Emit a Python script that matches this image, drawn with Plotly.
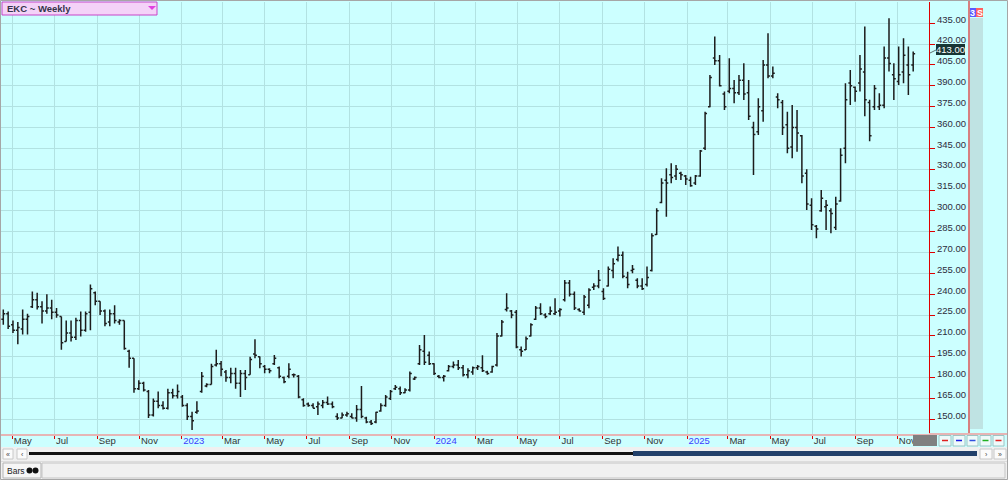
import plotly.graph_objects as go
import pandas as pd

# ---------------- data (weekly OHLC) ----------------
dates = pd.date_range("2022-04-18", periods=189, freq="7D")

opens = [
    222, 226, 218, 214, 215, 222, 231, 236, 231, 228,
    230, 227, 224, 206, 212, 209, 221, 214, 227, 241,
    235, 228, 220, 226, 220, 221, 199, 194, 172, 176,
    170, 153, 163, 160, 158, 169, 167, 166, 160, 152,
    155, 170, 174, 175, 189, 190, 184, 180, 183, 176,
    183, 182, 197, 195, 188, 186, 190, 187, 180, 181,
    182, 181, 164, 161, 160, 159, 160, 162, 161, 152,
    151, 153, 152, 151, 157, 151, 148, 148, 156, 160,
    165, 172, 172, 169, 171, 179, 190, 199, 196, 190,
    181, 180, 185, 188, 189, 187, 182, 184, 187, 187,
    184, 184, 189, 210, 229, 228, 227, 200, 200, 210,
    222, 230, 225, 226, 226, 228, 236, 248, 240, 229,
    227, 232, 245, 246, 242, 246, 257, 265, 268, 252,
    257, 250, 246, 247, 257, 283, 306, 322, 326, 325,
    327, 325, 322, 320, 325, 345, 375, 410, 408, 384,
    386, 388, 385, 394, 385, 360, 357, 372, 405, 397,
    382, 378, 362, 346, 360, 354, 327, 304, 289, 300,
    303, 300, 288, 307, 345, 392, 389, 392, 400, 378,
    375, 375, 376, 410, 398, 393, 400, 405, 405,
]
highs = [
    229, 227.5, 221, 220, 229, 226, 242, 241, 235, 240,
    236, 230, 224, 221, 221, 223, 227.5, 227.5, 247, 242,
    235, 229, 229, 232, 222, 221, 200, 194, 178, 177,
    171, 165, 170, 163, 172, 172, 175, 167.5, 161.5, 155.5,
    163, 184, 176, 190, 200, 192, 185.5, 187, 187, 185.5,
    185.5, 195, 207.6, 195.1, 189.1, 186.7, 196.3, 187.9, 180.7, 190.3,
    183, 181.9, 165.1, 162, 161.5, 162.7, 163.9, 166.3, 162.7, 154.3,
    154.8, 155.5, 154.3, 160.3, 174.0, 151.9, 149.5, 155.5, 161.5, 167.5,
    171.1, 174.7, 173.5, 172.3, 184.3, 180.7, 203.5, 210.7, 198.7, 190.3,
    181.9, 181.9, 189.1, 191.5, 192.7, 189.1, 186.7, 188, 189.1, 196,
    185, 188.5, 212, 221.5, 240.7, 228.7, 228.7, 202.3, 209.5, 219.1,
    231.6, 233.5, 226.3, 231.1, 237.1, 229.9, 250.3, 250.3, 241.9, 229.9,
    239.5, 244.3, 247.9, 257.5, 244.3, 259.9, 265.9, 274.3, 270.7, 256.2,
    261.1, 251.5, 251.5, 259.9, 283.8, 301.8, 323.4, 330.6, 334.2, 333.0,
    328.2, 325.8, 324.6, 325.8, 343.8, 371.4, 397.8, 425.4, 412.2, 385.8,
    409.8, 394.2, 397.8, 406.2, 394.2, 364.2, 381.0, 408.6, 427.8, 403.8,
    384.6, 379.8, 371.4, 376.2, 372.6, 354.6, 329.9, 309.0, 289.8, 315.0,
    307.8, 301.8, 310.2, 345.0, 391.8, 401.4, 389.4, 412.2, 432.6, 380,
    390.6, 384.6, 418.2, 438.6, 406.2, 418.2, 424.2, 418.2, 414.6,
]
lows = [
    218, 215, 212, 204, 211, 211, 230, 229, 219, 226,
    222, 223, 200, 206, 206, 207, 209.5, 213, 214, 232,
    225, 217, 217, 219, 218, 200, 187, 169, 171, 170,
    151, 152, 158, 157, 157, 165, 165, 159, 149.5, 142.3,
    154, 169, 173, 175, 188, 181, 177, 176, 172, 166,
    171, 182, 193.9, 186.7, 183.1, 183.1, 189.1, 179.5, 175.9, 179.5,
    180, 165.1, 159.1, 159, 157.9, 153.1, 157.9, 160.3, 157.9, 149.5,
    150.7, 151.9, 150.7, 148.3, 150.7, 147.1, 145.9, 147.1, 155.5, 159.1,
    163.9, 171.1, 167.5, 168.7, 169.9, 178.3, 189.1, 189.1, 189.1, 181.9,
    179.5, 177.1, 184.3, 186.7, 185.5, 180.7, 179.5, 182, 185.5, 184,
    182, 183.5, 188, 209.5, 227.5, 222.7, 201.1, 195.1, 199.9, 209.5,
    221.5, 225.1, 222.7, 225.1, 225.1, 223.9, 234.7, 238.3, 228.7, 227.5,
    225.1, 229.9, 243.1, 244.3, 235.9, 245.5, 251.5, 263.5, 251.5, 244.3,
    255.1, 244.3, 243.1, 245.5, 256.3, 282.6, 305.4, 295.8, 319.8, 322.2,
    322.2, 318.6, 317.4, 318.6, 324.6, 343.8, 374.5, 405.0, 389.4, 372.6,
    384.6, 377.4, 383.4, 379.8, 365.4, 325.8, 354.6, 364.2, 395.4, 395.4,
    373.8, 354.6, 341.4, 337.8, 342.6, 319.8, 300.6, 286.2, 280.2, 299.4,
    286.2, 283.8, 286.2, 306.6, 334.2, 376.2, 378.6, 385.8, 368, 350,
    372.6, 372.6, 373.8, 400.2, 379.8, 390.6, 391.8, 383.4, 400.2,
]
closes = [
    226, 217, 214, 216, 222, 224, 236, 231, 228, 230,
    227, 225, 205, 212, 209, 221, 214, 226, 244, 235,
    228, 219, 226, 221, 221, 201, 194, 172, 176, 171,
    153, 163, 160, 158, 169, 167, 170, 160, 152, 149,
    156, 181, 175, 188, 190, 186, 180, 183, 176, 183,
    180, 193, 196, 190, 186, 185, 194, 181, 177, 186,
    182, 166, 160, 160, 158, 161, 162, 161, 159, 151,
    153, 154, 151, 157, 152, 148, 147, 155, 160, 166,
    170, 173, 169, 171, 183, 180, 200, 191, 190, 183,
    180, 181, 188, 189, 187, 182, 185, 187, 188, 185,
    183, 188, 210, 220, 230, 225, 202, 199, 208, 218,
    230, 226, 224, 228, 227, 229, 248, 240, 230, 228,
    238, 243, 246, 250, 237, 258, 262, 268, 253, 247,
    258, 246, 244, 252, 282, 300, 320, 320, 324, 330,
    326, 323, 318, 325, 343, 370, 396, 408, 390, 375,
    388, 385, 394, 384, 368, 355, 375, 405, 397, 399,
    380, 360, 345, 360, 356, 325, 305, 290, 287, 309,
    304, 298, 305, 340, 380, 390, 386, 402, 380, 354,
    388, 376, 410, 406, 395, 398, 412, 398, 413,
]

ytick_vals = [150, 165, 180, 195, 210, 225, 240, 255, 270, 285, 300, 315,
              330, 345, 360, 375, 390, 405, 420, 435]
xtick_dates = ["2022-05-01", "2022-07-01", "2022-09-01", "2022-11-01",
               "2023-01-01", "2023-03-01", "2023-05-01", "2023-07-01",
               "2023-09-01", "2023-11-01", "2024-01-01", "2024-03-01",
               "2024-05-01", "2024-07-01", "2024-09-01", "2024-11-01",
               "2025-01-01", "2025-03-01", "2025-05-01", "2025-07-01",
               "2025-09-01", "2025-11-01"]
xtick_text = ["May", "Jul", "Sep", "Nov", "2023", "Mar", "May", "Jul", "Sep",
              "Nov", "2024", "Mar", "May", "Jul", "Sep", "Nov", "2025", "Mar",
              "May", "Jul", "Sep", "Nov"]
last_price = 413.00
title_text = "EKC ~ Weekly"

# ---------------- geometry helpers ----------------
W, H = 1008, 480
L, R, T, B = 1, 929, 2, 434
CYAN = "#ccffff"
FONT = "Liberation Sans"


def px(x):
    return (x - L) / (R - L)


def py(y):
    return (B - y) / (B - T)


shapes = []
annotations = []


def rect(x0, y0, x1, y1, fill, line=None, lw=1):
    shapes.append(dict(type="rect", xref="paper", yref="paper",
                       x0=px(x0), x1=px(x1), y0=py(y1), y1=py(y0),
                       fillcolor=fill,
                       line=dict(color=line if line else fill, width=lw if line else 0),
                       layer="above"))


def seg(x0, y0, x1, y1, color, w=1):
    shapes.append(dict(type="line", xref="paper", yref="paper",
                       x0=px(x0), x1=px(x1), y0=py(y0), y1=py(y1),
                       line=dict(color=color, width=w), layer="above"))


def text(x, y, s, size=9, color="#333", xanchor="left", bold=False):
    if bold:
        s = "<b>" + s + "</b>"
    annotations.append(dict(xref="paper", yref="paper", x=px(x), y=py(y),
                            text=s, showarrow=False, xanchor=xanchor,
                            yanchor="middle",
                            font=dict(family=FONT, size=size, color=color)))


# ---------------- chrome ----------------
# right strip
seg(969, 0, 969, 434, "#e00000", 1)
rect(970, 18, 983, 429, "#bfe3e3")
rect(970, 8, 976, 17, "#5a5aff")
rect(976, 8, 983, 17, "#ff6161")
text(973, 12.5, "3", 9, "white", "center", True)
text(979.5, 12.5, "S", 9, "white", "center", True)
# axis line extension to the right
seg(929, 434, 1008, 434, "#e6b5b5", 2)

# top-left title box
rect(2, 2, 157, 15, "#f4d2f8", "#c844c8", 1)
text(4.5, 8.8, title_text, 9.5, "#34344a", "left", True)
shapes.append(dict(type="path", xref="paper", yref="paper",
                   path="M {a},{b} L {c},{b} L {d},{e} Z".format(
                       a=px(148), b=py(6), c=px(156), d=px(152), e=py(10)),
                   fillcolor="#e040e0", line=dict(width=0), layer="above"))

# last price label
seg(930, 53, 936, 50, "#607070", 1)
rect(936, 44, 965, 55, "#173535")
text(950.5, 49.5, "%.2f" % last_price, 9.5, "white", "center")

# bottom-right controls on axis row
rect(913, 435, 937, 446, "#808080")
btn_x = [(939, 951), (953, 965), (967, 978), (980, 991), (993, 1004)]
btn_c = ["#e02020", "#1a1ae0", "#3050e0", "#20b020", "#e02020"]
for (a, b), c in zip(btn_x, btn_c):
    rect(a, 435.5, b, 446, "#eefafa", "#9cc4c4", 1)
    m = (a + b) / 2
    seg(m - 3, 440.5, m + 3, 440.5, c, 1.5)

# scrollbar row
rect(0, 447, 1008, 461, "#f0f0f0")
rect(3, 449, 13, 459, "#fbfbfb", "#c8c8c8", 1)
rect(17, 449, 27, 459, "#fbfbfb", "#c8c8c8", 1)
text(8, 454, "«", 7, "#444", "center")
text(22, 454, "‹", 7, "#444", "center")
seg(29, 453.5, 634, 453.5, "#111111", 3)
rect(633, 451, 977, 456, "#22406a")
rect(980, 449, 992, 459, "#fbfbfb", "#c8c8c8", 1)
rect(994, 449, 1006, 459, "#fbfbfb", "#c8c8c8", 1)
text(986, 454, "›", 7, "#444", "center")
text(1000, 454, "»", 7, "#444", "center")

# bottom status row
rect(0, 461, 1008, 480, "#f0f0f0")
seg(0, 461.5, 1008, 461.5, "#dcdcdc", 1)
rect(3, 463, 41, 478, "#f6f6f6", "#b4b4b4", 1)
rect(42, 463, 1005, 478, "#f0f0f0", "#c4c4c4", 1)
text(5, 470.5, "Bars", 8.5, "#222", "left")
for cx in (29.5, 35.5):
    shapes.append(dict(type="circle", xref="paper", yref="paper",
                       x0=px(cx - 3), x1=px(cx + 3), y0=py(473.5), y1=py(467.5),
                       fillcolor="#111", line=dict(width=0), layer="above"))

# outer border
rect(0.5, 0.5, 1007.5, 479.5, "rgba(0,0,0,0)", "#a6a6a6", 1)

# ---------------- figure ----------------
ticktext = []
for t in xtick_text:
    if t.isdigit():
        ticktext.append('<span style="color:#3a3aff">%s</span>' % t)
    else:
        ticktext.append(t)

fig = go.Figure(go.Ohlc(
    x=dates, open=opens, high=highs, low=lows, close=closes,
    increasing=dict(line=dict(color="#1c1c1c", width=1.5)),
    decreasing=dict(line=dict(color="#1c1c1c", width=1.5)),
    tickwidth=0.4, hoverinfo="skip", showlegend=False,
))

fig.update_layout(
    width=W, height=H,
    margin=dict(l=L, r=W - R, t=T, b=H - B, pad=0),
    paper_bgcolor=CYAN, plot_bgcolor=CYAN,
    showlegend=False,
    shapes=shapes, annotations=annotations,
    font=dict(family=FONT, size=9, color="#333"),
    xaxis=dict(
        type="date",
        range=["2022-04-14 16:00", "2025-12-16 20:24"],
        rangeslider=dict(visible=False),
        tickvals=xtick_dates, ticktext=ticktext,
        ticks="outside", ticklen=3, tickwidth=1, tickcolor="#e00000",
        ticklabelposition="outside right",
        ticklabelstandoff=-3,
        tickfont=dict(family=FONT, size=9.5, color="#333"),
        showgrid=True, gridcolor="#b2e2e2", gridwidth=1,
        showline=True, linecolor="#e6b5b5", linewidth=2,
        zeroline=False, fixedrange=True,
    ),
    yaxis=dict(
        side="right",
        range=[139.4, 450.3],
        tickvals=ytick_vals, tickformat=".2f",
        ticks="outside", ticklen=5, tickwidth=1, tickcolor="#e00000",
        ticklabelshift=-4,
        tickfont=dict(family=FONT, size=9.5, color="#2c2c3c"),
        showgrid=True, gridcolor="#b2e2e2", gridwidth=1,
        showline=True, linecolor="#e00000", linewidth=1,
        zeroline=False, fixedrange=True,
    ),
)

fig.write_html(
    "out.html",
    config={"displayModeBar": False},
    post_script="document.body.style.margin='0';document.body.style.overflow='hidden';",
)
